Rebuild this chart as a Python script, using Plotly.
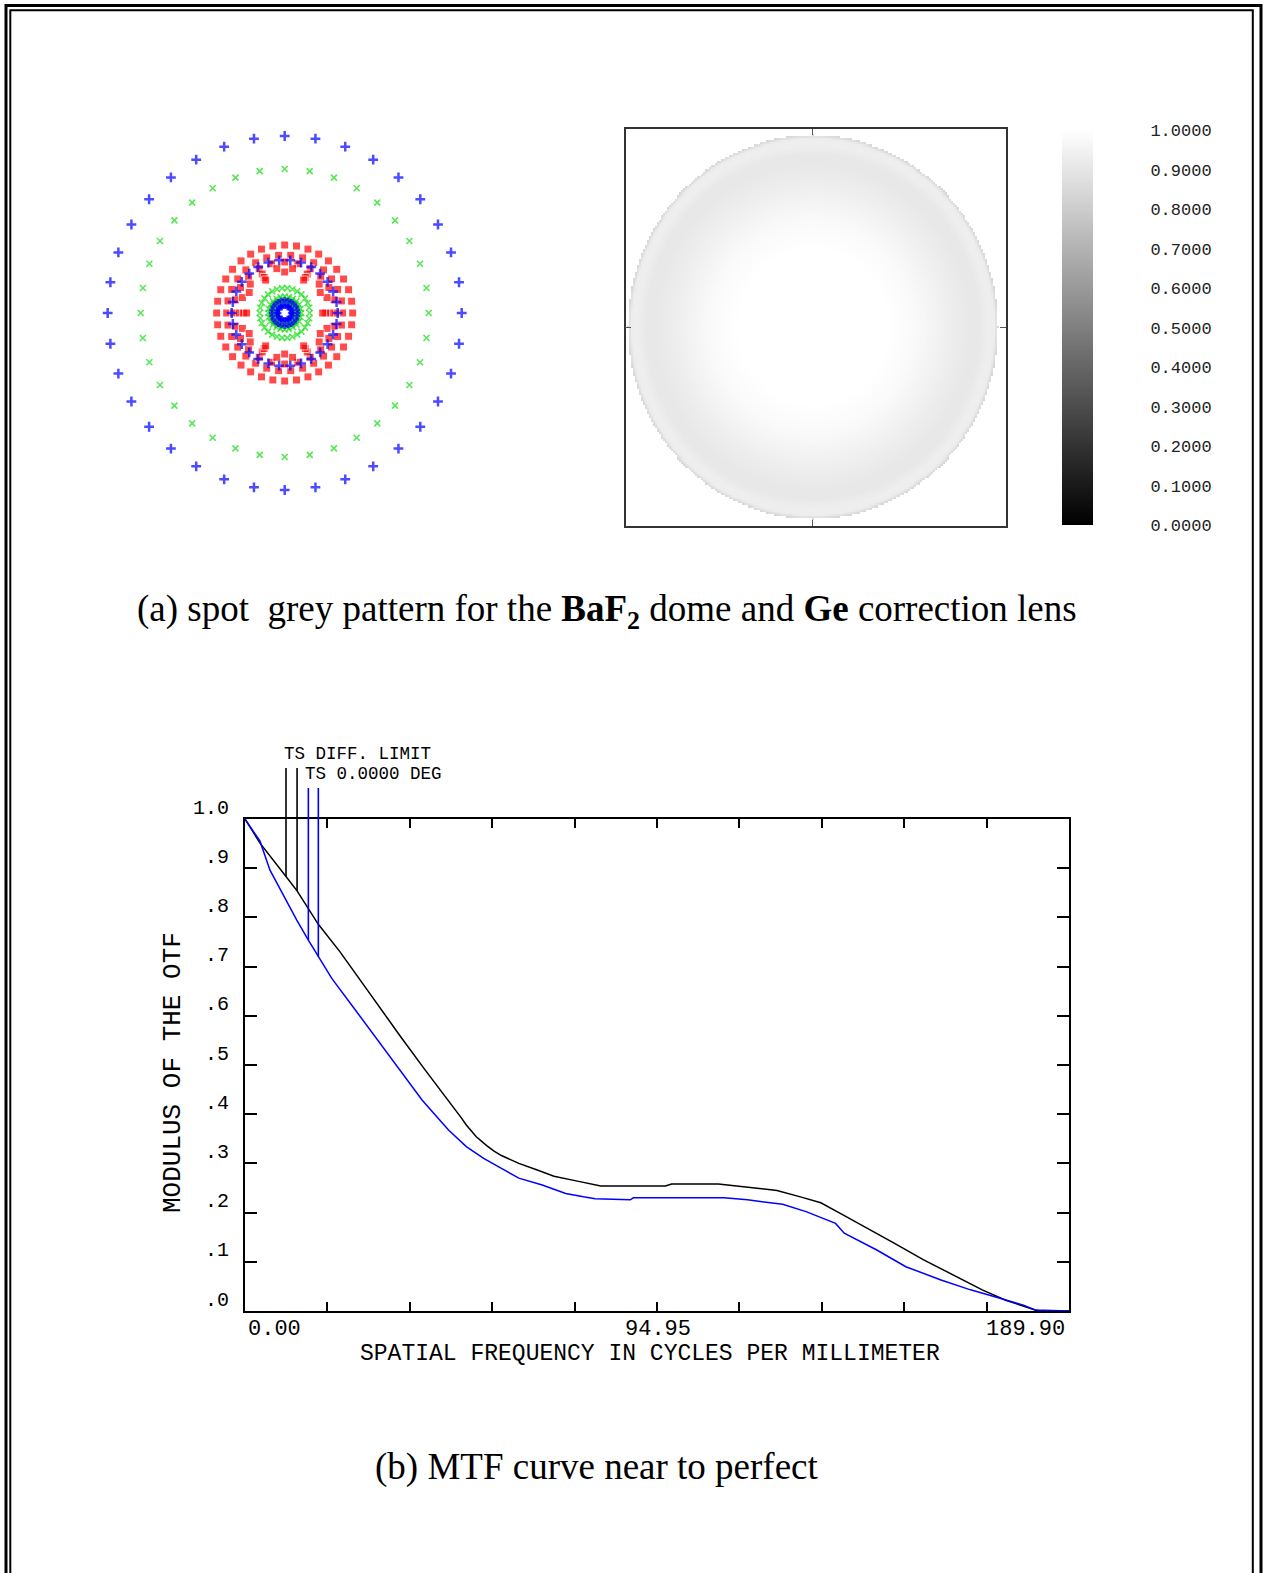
import numpy as np
import plotly.graph_objects as go

W, H = 1266, 1573

# ---------------- spot diagram (hexapolar rings, 3 wavelengths) ----------------
ring_counts = [36, 30, 24, 18, 12, 6]
blue_ring_radius = [177, 53, 13, 8, 7, 6]
green_ring_radius = [144, 25, 16.5, 14, 12, 10]
red_ring_radius = [68, 58, 51, 45, 41, 38]

# ---------------- grey pupil map: radial grey level ----------------
pupil_r = [0.0, 0.4, 0.55, 0.65, 0.75, 0.85, 0.9, 0.95, 0.98, 1.0]
pupil_v = [1.0, 1.0, 0.98, 0.955, 0.93, 0.91, 0.91, 0.935, 0.93, 0.84]
scale_ticks = [0.0, 0.1, 0.2, 0.3, 0.4, 0.5, 0.6, 0.7, 0.8, 0.9, 1.0]
scale_ticktext = ["0.0000", "0.1000", "0.2000", "0.3000", "0.4000", "0.5000",
                  "0.6000", "0.7000", "0.8000", "0.9000", "1.0000"]

# ---------------- MTF curves ----------------
freq_diff = [0, 3.46, 9.45, 12.0, 14.6, 16.9, 21.9, 26.5, 31.0, 36.0, 41.5, 46.9,
             49.9, 51.0, 53.3, 55.7, 57.4, 59.1, 63.1, 67.2, 71.2, 76.6, 82.0, 96.9,
             98.3, 109.1, 115.8, 122.6, 128.0, 132.7, 137.5, 142.9, 149.6, 156.4,
             163.2, 169.9, 175.3, 179.4, 182.1, 183.4, 189.9]
mtf_diff = [1.0, 0.951, 0.883, 0.854, 0.818, 0.786, 0.730, 0.673, 0.618, 0.556,
            0.490, 0.428, 0.392, 0.378, 0.354, 0.336, 0.325, 0.316, 0.300, 0.287,
            0.274, 0.264, 0.254, 0.254, 0.258, 0.258, 0.251, 0.245, 0.232, 0.220,
            0.197, 0.171, 0.138, 0.104, 0.073, 0.043, 0.022, 0.009, 0.002, 0.0, 0.0]
freq_ts = [0, 3.46, 5.76, 9.2, 11.9, 14.6, 16.9, 20.0, 25.0, 30.0, 35.0, 40.8,
           44.2, 46.9, 51.0, 55.0, 59.1, 63.1, 68.5, 73.9, 78.0, 80.7, 88.8, 89.5,
           110.4, 115.8, 123.9, 129.3, 136.1, 138.1, 145.6, 152.3, 160.4, 167.2,
           174.0, 179.4, 182.1, 189.9]
mtf_ts = [1.0, 0.955, 0.896, 0.839, 0.795, 0.754, 0.720, 0.676, 0.617, 0.557,
          0.498, 0.429, 0.395, 0.368, 0.334, 0.310, 0.290, 0.270, 0.256, 0.239,
          0.232, 0.228, 0.226, 0.230, 0.230, 0.226, 0.217, 0.202, 0.178, 0.158,
          0.124, 0.090, 0.063, 0.043, 0.026, 0.012, 0.002, 0.0]
freq_max = 189.9
diff_leader_x = [9.45, 12.0]
ts_leader_x = [14.6, 16.9]
mtf_ytick_vals = [1.0, 0.9, 0.8, 0.7, 0.6, 0.5, 0.4, 0.3, 0.2, 0.1, 0.0]
mtf_ytick_text = ["1.0", ".9", ".8", ".7", ".6", ".5", ".4", ".3", ".2", ".1", ".0"]
mtf_xtick_vals = [0.0, 94.95, 189.9]
mtf_xtick_text = ["0.00", "94.95", "189.90"]


def fx(px):
    return px / W


def fy(py):
    return 1 - py / H


MONO = "Liberation Mono"
SERIF = "Liberation Serif"
BLUE = "#0000ff"
GREEN = "#11dd11"
RED = "#ff0000"

fig = go.Figure()


# spot diagram
def rings(radii, outer_size, inner_size, n_outer=2):
    xs, ys, sz = [], [], []
    for i, (r, n) in enumerate(zip(radii, ring_counts)):
        a = np.arange(n) * 2 * np.pi / n
        xs.extend(r * np.cos(a))
        ys.extend(r * np.sin(a))
        sz.extend([outer_size if i < n_outer else inner_size] * n)
    return xs, ys, sz


rx, ry, rs = rings(red_ring_radius, 8, 8)
gx, gy, gs = rings(green_ring_radius, 6, 6, n_outer=1)
bx, by, bs = rings(blue_ring_radius, 7, 4)
fig.add_trace(go.Scatter(x=rx, y=ry, mode="markers", xaxis="x", yaxis="y",
                         marker=dict(symbol="square", size=rs, color=RED), hoverinfo="skip"))
fig.add_trace(go.Scatter(x=gx, y=gy, mode="markers", xaxis="x", yaxis="y",
                         marker=dict(symbol="x-thin", size=gs, line=dict(color=GREEN, width=1.6)),
                         hoverinfo="skip"))
fig.add_trace(go.Scatter(x=bx, y=by, mode="markers", xaxis="x", yaxis="y",
                         marker=dict(symbol="cross-thin", size=bs, line=dict(color=BLUE, width=2.5)),
                         hoverinfo="skip"))

# grey pupil map
n = 185
g = np.linspace(-1, 1, n)
GX, GY = np.meshgrid(g, g)
R = np.sqrt(GX ** 2 + GY ** 2)
Z = np.interp(R, pupil_r, pupil_v)
Z[R > 1.0] = np.nan
greys = [[0, "#000000"], [1, "#ffffff"]]
fig.add_trace(go.Heatmap(x=g, y=g, z=Z, xaxis="x2", yaxis="y2", colorscale=greys,
                         zmin=0, zmax=1, showscale=False, zsmooth=False, hoverinfo="skip"))

# grey scale bar
levels = np.linspace(0, 1, 200)
fig.add_trace(go.Heatmap(x=[0], y=levels, z=levels.reshape(-1, 1), xaxis="x3", yaxis="y3",
                         colorscale=greys, zmin=0, zmax=1, showscale=False, hoverinfo="skip"))

# MTF curves
fig.add_trace(go.Scatter(x=freq_diff, y=mtf_diff, mode="lines", xaxis="x4", yaxis="y4",
                         line=dict(color="black", width=1.5), hoverinfo="skip"))
fig.add_trace(go.Scatter(x=freq_ts, y=mtf_ts, mode="lines", xaxis="x4", yaxis="y4",
                         line=dict(color=BLUE, width=1.5), hoverinfo="skip"))

# legend leader lines, on an axis sharing the MTF scale but reaching above the frame
px_per_unit = 492.0
lead_top_diff = (1311 - 768) / px_per_unit
lead_top_ts = (1311 - 788) / px_per_unit
for xv in diff_leader_x:
    fig.add_trace(go.Scatter(x=[xv, xv], y=[np.interp(xv, freq_diff, mtf_diff), lead_top_diff],
                             mode="lines", xaxis="x5", yaxis="y5",
                             line=dict(color="black", width=1.6), hoverinfo="skip"))
for xv in ts_leader_x:
    fig.add_trace(go.Scatter(x=[xv, xv], y=[np.interp(xv, freq_ts, mtf_ts), lead_top_ts],
                             mode="lines", xaxis="x5", yaxis="y5",
                             line=dict(color=BLUE, width=1.6), hoverinfo="skip"))

annotations = []
annotations.append(dict(x=8.6, y=(1311 - 754) / px_per_unit, xref="x5", yref="y5",
                        text="TS DIFF. LIMIT", showarrow=False, xanchor="left", yanchor="middle",
                        font=dict(family=MONO, size=17.5, color="black")))
annotations.append(dict(x=13.3, y=(1311 - 774) / px_per_unit, xref="x5", yref="y5",
                        text="TS 0.0000 DEG", showarrow=False, xanchor="left", yanchor="middle",
                        font=dict(family=MONO, size=17.5, color="black")))

for v, t in zip(mtf_ytick_vals, mtf_ytick_text):
    annotations.append(dict(x=0, y=v, xref="x4", yref="y4", text=t, showarrow=False,
                            xanchor="right", yanchor="middle", xshift=-14, yshift=11,
                            font=dict(family=MONO, size=20, color="black")))
for v, t, anc in zip(mtf_xtick_vals, mtf_xtick_text, ["left", "center", "right"]):
    annotations.append(dict(x=v, y=0, xref="x4", yref="y4", text=t, showarrow=False,
                            xanchor=anc, yanchor="middle", yshift=-18,
                            xshift={"left": 1, "center": 1, "right": -2}[anc],
                            font=dict(family=MONO, size=22, color="black")))
annotations.append(dict(x=fx(650), y=fy(1354), xref="paper", yref="paper",
                        text="SPATIAL FREQUENCY IN CYCLES PER MILLIMETER", showarrow=False,
                        xanchor="center", yanchor="middle",
                        font=dict(family=MONO, size=23, color="black")))
annotations.append(dict(x=fx(173), y=fy(1073), xref="paper", yref="paper",
                        text="MODULUS OF THE OTF", showarrow=False, textangle=-90,
                        xanchor="center", yanchor="middle",
                        font=dict(family=MONO, size=26, color="black")))

# captions
annotations.append(dict(x=fx(607), y=fy(611), xref="paper", yref="paper",
                        text="(a) spot \u00a0grey pattern for the <b>BaF</b><sub><b>2</b></sub> dome and "
                             "<b>Ge</b> correction lens",
                        showarrow=False, xanchor="center", yanchor="middle",
                        font=dict(family=SERIF, size=37, color="black")))
annotations.append(dict(x=fx(596), y=fy(1467), xref="paper", yref="paper",
                        text="(b) MTF curve near to perfect",
                        showarrow=False, xanchor="center", yanchor="middle",
                        font=dict(family=SERIF, size=37, color="black")))

# page frame: thick outer line and thin inner line
shapes = [
    dict(type="rect", xref="paper", yref="paper", x0=fx(6), x1=fx(1261), y0=fy(1600), y1=fy(5.5),
         line=dict(color="black", width=3), fillcolor="rgba(0,0,0,0)"),
    dict(type="rect", xref="paper", yref="paper", x0=fx(10.3), x1=fx(1252.8), y0=fy(1600), y1=fy(10.3),
         line=dict(color="black", width=2), fillcolor="rgba(0,0,0,0)"),
]

hidden = dict(visible=False, showgrid=False, zeroline=False)
cx_spot, cy_spot = 284.7, 313.0

fig.update_layout(
    width=W, height=H, autosize=False,
    margin=dict(l=0, r=0, t=0, b=0, pad=0, autoexpand=False),
    paper_bgcolor="white", plot_bgcolor="rgba(0,0,0,0)",
    showlegend=False,
    annotations=annotations,
    shapes=shapes,
    xaxis=dict(domain=[fx(90), fx(480)], range=[90 - cx_spot, 480 - cx_spot], anchor="y", **hidden),
    yaxis=dict(domain=[fy(510), fy(115)], range=[cy_spot - 510, cy_spot - 115], anchor="x", **hidden),
    xaxis2=dict(domain=[fx(625.7), fx(1005.8)], range=[-1.012, 1.043], anchor="y2",
                showline=True, mirror="ticks", linecolor="#333333", linewidth=1.5,
                ticks="inside", tickvals=[0], ticklen=6, tickcolor="#555555",
                showticklabels=False, showgrid=False, zeroline=False),
    yaxis2=dict(domain=[fy(526), fy(129.3)], range=[-1.036, 1.030], anchor="x2",
                showline=True, mirror="ticks", linecolor="#333333", linewidth=1.5,
                ticks="inside", tickvals=[0], ticklen=6, tickcolor="#555555",
                showticklabels=False, showgrid=False, zeroline=False),
    xaxis3=dict(domain=[fx(1062), fx(1093.4)], range=[-0.5, 0.5], anchor="y3", **hidden),
    yaxis3=dict(domain=[fy(525), fy(130.5)], range=[0, 1], anchor="x3", side="right",
                tickvals=scale_ticks, ticktext=scale_ticktext, ticks="", showline=False,
                showgrid=False, zeroline=False, ticklabelstandoff=56, automargin=False,
                tickfont=dict(family=MONO, size=17, color="#222222")),
    xaxis4=dict(domain=[fx(245), fx(1069)], range=[0, freq_max], anchor="y4",
                showline=True, mirror="ticks", linecolor="black", linewidth=2,
                ticks="inside", tickvals=[freq_max * i / 10 for i in range(11)], ticklen=9,
                tickwidth=2, tickcolor="black", showticklabels=False,
                showgrid=False, zeroline=False),
    yaxis4=dict(domain=[fy(1311), fy(819)], range=[0, 1], anchor="x4",
                showline=True, mirror="ticks", linecolor="black", linewidth=2,
                ticks="inside", tickvals=mtf_ytick_vals, ticklen=12, tickwidth=2,
                tickcolor="black", showticklabels=False, showgrid=False, zeroline=False),
    xaxis5=dict(domain=[fx(245), fx(1069)], range=[0, freq_max], anchor="y5", **hidden),
    yaxis5=dict(domain=[fy(1311), fy(735)], range=[0, (1311 - 735) / px_per_unit], anchor="x5", **hidden),
)

fig.write_html("out.html")
